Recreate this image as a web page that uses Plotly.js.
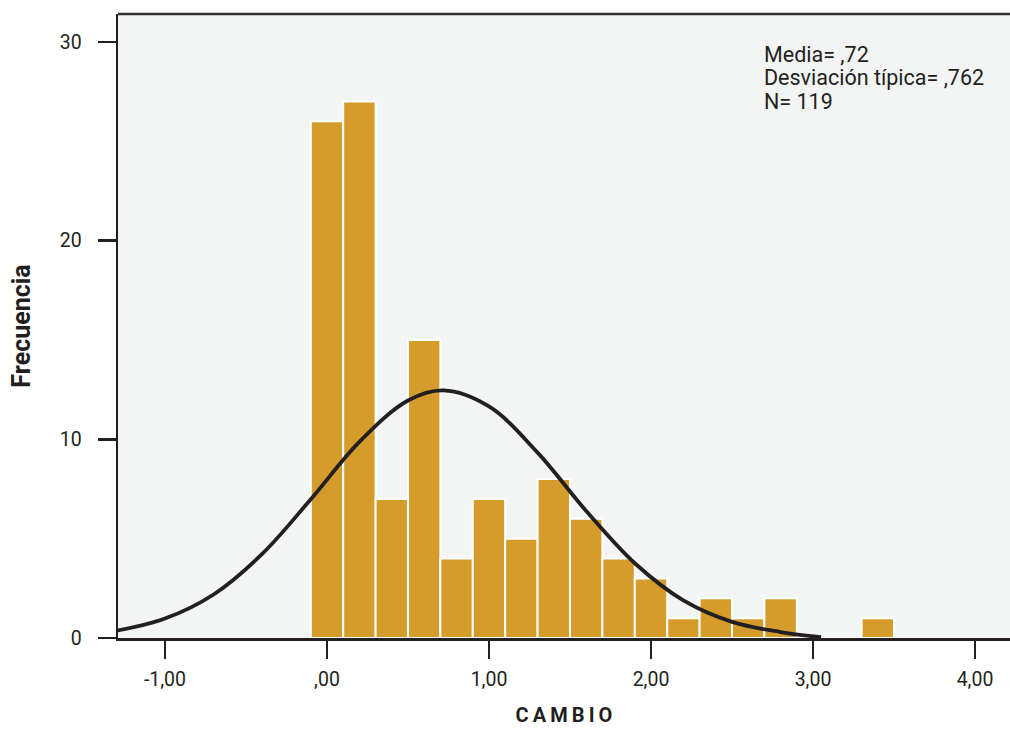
<!DOCTYPE html>
<html>
<head>
<meta charset="utf-8">
<script src="https://cdn.plot.ly/plotly-3.0.1.min.js"></script>
<style>html,body{margin:0;padding:0;background:#fff;}#chart{width:1010px;height:730px;}</style>
</head>
<body>
<div id="chart"></div>
<script>
// Histogram bins (centres) and frequencies
const binCenters = [0.0, 0.2, 0.4, 0.6, 0.8, 1.0, 1.2, 1.4, 1.6, 1.8, 2.0, 2.2, 2.4, 2.6, 2.8, 3.0, 3.2, 3.4];
const frequencies = [26, 27, 7, 15, 4, 7, 5, 8, 6, 4, 3, 1, 2, 1, 2, 0, 0, 1];
const binWidth = 0.2;

// Normal curve points
const curveX = [-1.3, -1.0, -0.7, -0.4, -0.1, 0.2, 0.5, 0.72, 1.0, 1.3, 1.6, 1.9, 2.2, 2.5, 2.8, 3.05];
const curveY = [0.37, 0.98, 2.19, 4.23, 6.98, 9.87, 11.95, 12.46, 11.65, 9.33, 6.39, 3.76, 1.89, 0.81, 0.30, 0.04];

// Tick labels
const xTickVals = [-1, 0, 1, 2, 3, 4];
const xTickText = ['-1,00', ',00', '1,00', '2,00', '3,00', '4,00'];
const yTickVals = [0, 10, 20, 30];
const yTickText = ['0', '10', '20', '30'];

const statsLines = ['Media= ,72', 'Desviación típica= ,762', 'N= 119'];

const ink = '#231f20';
const fontFam = 'Roboto, "Open Sans", sans-serif';

const traces = [
  {
    type: 'bar',
    x: binCenters,
    y: frequencies,
    width: binWidth,
    marker: {color: '#d69c2b', line: {color: '#ffffff', width: 2}},
    hoverinfo: 'x+y'
  },
  {
    type: 'scatter',
    mode: 'lines',
    x: curveX,
    y: curveY,
    line: {color: ink, width: 3.8, shape: 'spline', smoothing: 1},
    hoverinfo: 'skip'
  }
];

const plotTop = 14, plotH = 624;
const lineCentersPx = [54, 78, 102];
const annotations = statsLines.map((t, i) => ({
  xref: 'paper', yref: 'paper',
  x: (762 - 118) / 892,
  y: 1 - (lineCentersPx[i] - plotTop) / plotH,
  xanchor: 'left', yanchor: 'middle',
  align: 'left',
  showarrow: false,
  text: t,
  font: {size: 21.5, family: fontFam, color: ink}
}));

const layout = {
  width: 1010,
  height: 730,
  margin: {l: 118, r: 0, t: 14, b: 92},
  paper_bgcolor: '#ffffff',
  plot_bgcolor: '#f3f5f4',
  showlegend: false,
  bargap: 0,
  font: {family: fontFam, color: ink, size: 19},
  xaxis: {
    range: [-1.29, 4.216],
    tickmode: 'array',
    tickvals: xTickVals,
    ticktext: xTickText,
    ticks: 'outside',
    ticklen: 18,
    tickwidth: 2.5,
    tickcolor: ink,
    ticklabelstandoff: 4,
    showgrid: false,
    zeroline: false,
    showline: true,
    linecolor: ink,
    linewidth: 2.5,
    tickfont: {size: 19.5, family: fontFam, color: ink},
    title: {text: 'C\u2009A\u2009M\u2009B\u2009I\u2009O', font: {size: 20, family: fontFam, color: ink, weight: 'bold'}, standoff: 18}
  },
  yaxis: {
    range: [0, 31.4],
    tickmode: 'array',
    tickvals: yTickVals,
    ticktext: yTickText,
    ticks: 'outside',
    ticklen: 18,
    tickwidth: 2.5,
    tickcolor: ink,
    ticklabelstandoff: 12,
    showgrid: false,
    zeroline: false,
    showline: true,
    linecolor: ink,
    linewidth: 2.5,
    tickfont: {size: 19.5, family: fontFam, color: ink},
    title: {text: 'Frecuencia', font: {size: 25, family: fontFam, color: ink, weight: 'bold'}, standoff: 22}
  },
  shapes: [
    {type: 'line', xref: 'paper', yref: 'paper', x0: 0, x1: 1, y0: 1, y1: 1, line: {color: '#333333', width: 2.5}}
  ],
  annotations: annotations
};

Plotly.newPlot('chart', traces, layout, {displayModeBar: false, staticPlot: true});
</script>
</body>
</html>
